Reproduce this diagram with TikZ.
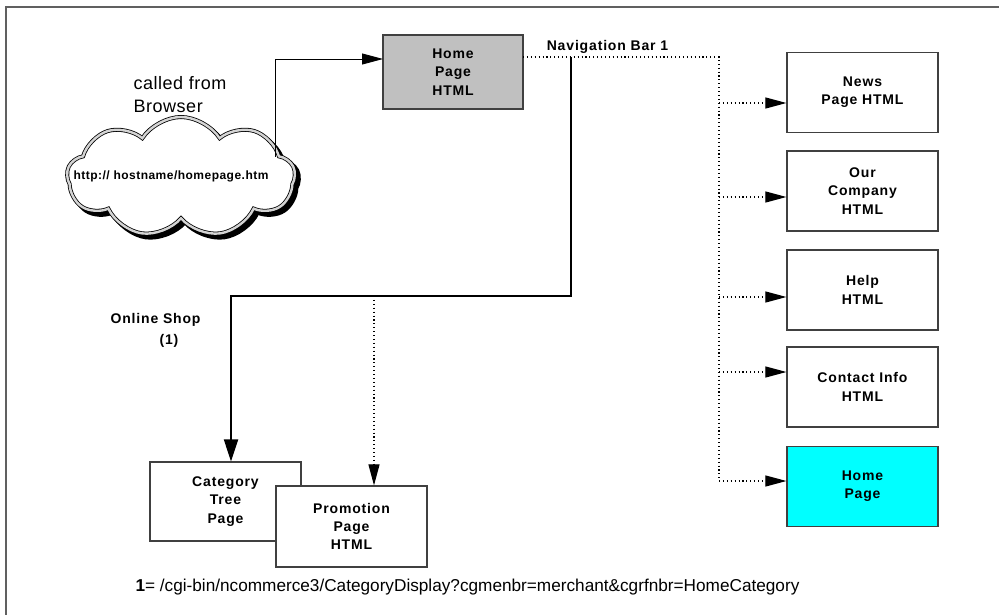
\documentclass[tikz,border=0pt]{standalone}
\usepackage{fontspec}
\setmainfont{Liberation Sans}
\newfontfamily\boxfont[LetterSpace=6]{Liberation Sans}
\newfontfamily\callfont[LetterSpace=3]{Liberation Sans}
\newfontfamily\cloudfont[LetterSpace=4]{Liberation Sans}
\usetikzlibrary{arrows.meta,shapes.symbols,calc}

\definecolor{boxedge}{HTML}{404040}
\definecolor{homegray}{HTML}{C0C0C0}
\definecolor{cyanfill}{HTML}{00FFFF}
\definecolor{framegray}{HTML}{606060}
\definecolor{ringgray}{HTML}{D4D4D4}

\tikzset{
  pagebox/.style={draw=boxedge, line width=1.2pt, fill=white,
    minimum width=151pt, minimum height=80pt, inner sep=0pt, align=center,
    font={\boxfont\bfseries\fontsize{14}{18.3}\selectfont}},
  dotline/.style={line width=1.1pt, dash pattern=on 1.1pt off 2.8pt},
  dotarrow/.style={dotline, -{Triangle[length=21pt,width=11pt]}},
  thinarrow/.style={line width=0.8pt, -{Triangle[length=21pt,width=11pt]}},
  mainarrow/.style={line width=2pt, -{Triangle[length=22pt,width=14pt]}},
  cloudshape/.style={cloud, cloud puffs=9, cloud puff arc=115, cloud ignores aspect,
    minimum width=228pt, minimum height=120pt, inner sep=0pt},
  boldlabel/.style={font={\boxfont\bfseries\fontsize{14}{17}\selectfont}},
}

\begin{document}
\begin{tikzpicture}[x=1pt,y=-1pt]
  \useasboundingbox (0,0) rectangle (999,615);

  % page frame
  \draw[framegray, line width=1.6pt] (6,615) -- (6,7) -- (999,7);

  % browser cloud with its shadow
  \node[cloudshape, fill=black, draw=black, line width=4pt] (cloudshadow) at (185,181) {};
  \node[cloudshape, fill=white, draw=black, line width=0.8pt,
        double=ringgray, double distance=2.4pt] (cloud) at (181,177) {};
  \node[font={\cloudfont\bfseries\fontsize{12}{14}\selectfont}] (cloudtext) at (171,176)
    {http:// hostname/homepage.htm};
  \node[anchor=west, align=left, font={\callfont\fontsize{18}{23}\selectfont}] (caller)
    at (130,94.5) {called from\\Browser};

  % home page
  \node[pagebox, fill=homegray, minimum width=140pt, minimum height=74pt] (home)
    at (453,72) {Home\\Page\\HTML};
  \node[boldlabel] (navlabel) at (607.5,47) {Navigation Bar 1};

  % navigation bar targets
  \node[pagebox] (news)    at (862.5,92.5) {News\\Page HTML};
  \node[pagebox] (company) at (862.5,191)  {Our\\Company\\HTML};
  \node[pagebox] (help)    at (862.5,290)  {Help\\HTML};
  \node[pagebox] (contact) at (862.5,387)  {Contact Info\\HTML};
  \node[pagebox, fill=cyanfill] (homepage) at (862.5,486.5) {Home\\Page};

  % online shop pages
  \node[pagebox, minimum height=79pt] (cat)   at (225.5,501.5) {Category\\Tree\\Page};
  \node[pagebox, minimum height=81pt] (promo) at (351.5,526.5) {Promotion\\Page\\HTML};
  \node[boldlabel, anchor=west] (shoplabel) at (107,320) {Online Shop};
  \node[boldlabel] (shopnote) at (169,341) {(1)};

  \node[anchor=west, font={\fontsize{17.2}{20}\selectfont}] (footnote) at (132,587)
    {\textbf{1}= /cgi-bin/ncommerce3/CategoryDisplay?cgmenbr=merchant\&cgrfnbr=HomeCategory};

  % browser request
  \coordinate (cloudtap) at (275,157);
  \coordinate (homein) at (383,59);
  \draw[thinarrow] (cloudtap) |- (homein);

  % navigation bar
  \coordinate (navout)  at (523,57);
  \coordinate (navbend) at (719,57);
  \coordinate (navend)  at (719,481);
  \draw[dotline] (navout) -- (navbend) -- (navend);

  \coordinate (newsin)     at ([yshift=-10.5pt]news.west);
  \coordinate (companyin)  at ([yshift=-6pt]company.west);
  \coordinate (helpin)     at ([yshift=-7pt]help.west);
  \coordinate (contactin)  at ([yshift=15pt]contact.west);
  \coordinate (homepagein) at ([yshift=5.5pt]homepage.west);
  \draw[dotarrow] (newsin -| navbend) -- (newsin);
  \draw[dotarrow] (companyin -| navbend) -- (companyin);
  \draw[dotarrow] (helpin -| navbend) -- (helpin);
  \draw[dotarrow] (contactin -| navbend) -- (contactin);
  \draw[dotarrow] (homepagein -| navbend) -- (homepagein);

  % online shop branch
  \coordinate (shoptap)  at (571,57);
  \coordinate (shopturn) at (571,296);
  \coordinate (catin)    at ([xshift=5.5pt]cat.north);
  \coordinate (promoin)  at ([xshift=22.5pt]promo.north);
  \draw[mainarrow] (shoptap) -- (shopturn) -| (catin);
  \draw[dotarrow] (promoin |- shopturn) -- (promoin);
\end{tikzpicture}
\end{document}
